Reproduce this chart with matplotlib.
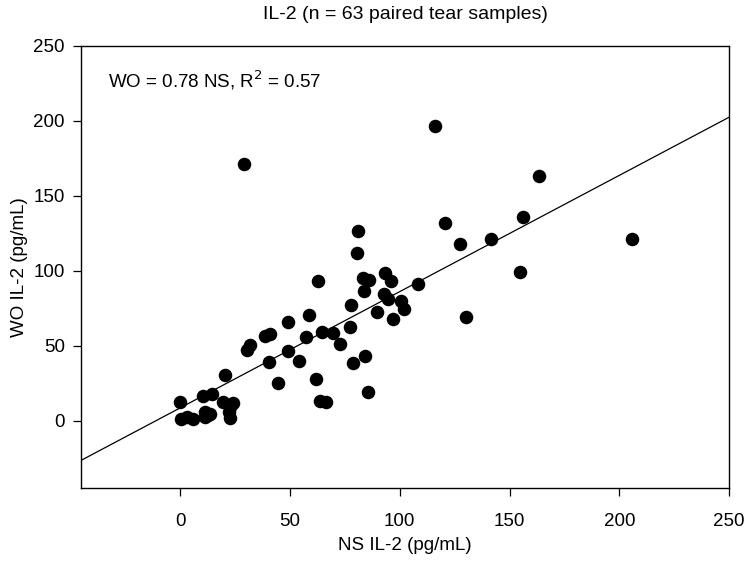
import matplotlib
matplotlib.use('Agg')
import matplotlib.pyplot as plt
import numpy as np

plt.rcParams['font.family'] = ['Liberation Sans', 'DejaVu Sans']

# NS IL-2 vs WO IL-2 (pg/mL)
ns = [0, 0.3, 3, 5.8, 10.6, 14.4, 11.4, 13.6, 11.4, 19.7, 24, 22, 22.7, 12.5,
      20.5, 30.5, 32, 40.6, 44.7, 49.2, 54.2, 61.8, 63.6, 66.4, 72.7, 78.5,
      81, 80.3, 62.9, 83.2, 86, 93.2, 95.8, 83.9, 92.6, 94.7, 100.6, 101.8,
      108.3, 78, 89.8, 96.7, 58.8, 77.3, 64.4, 69.7, 57.3, 84.1, 85.6,
      127.3, 141.7, 130.3, 115.9, 163.6, 120.8, 156, 205.6, 154.9, 29.1,
      38.6, 40.9, 49.2, 22.5]
wo = [12.7, 1.1, 2.7, 1.1, 16.5, 17.8, 6, 4.5, 2.7, 12.3, 11.6, 6, 1.6, 4,
      30.7, 47.1, 50.5, 38.9, 24.9, 46.7, 40, 27.6, 13.1, 12.3, 51.1, 38.7,
      126.5, 111.6, 93.3, 94.9, 94, 98.3, 93.3, 86.2, 84.7, 80.9, 79.6, 74.3,
      91.1, 77.1, 72.7, 67.6, 70.2, 62.7, 59.3, 58.3, 56, 43.1, 19.3,
      117.8, 120.9, 68.9, 196.5, 163.1, 132, 136, 121.1, 98.9, 171,
      56.5, 58, 65.5, 9]

slope = 0.775
intercept = 8.5

fig = plt.figure(figsize=(7.47, 5.63), dpi=100)
ax = fig.add_axes([0.109, 0.133, 0.867, 0.786])

ax.scatter(ns, wo, s=95, color='black', zorder=3, linewidths=0)
xl = np.array([-45, 250])
ax.plot(xl, slope * xl + intercept, color='black', lw=0.9)

ax.set_xlim(-45, 250)
ax.set_ylim(-45, 250)
ax.set_xticks([0, 50, 100, 150, 200, 250])
ax.set_yticks([0, 50, 100, 150, 200, 250])
ax.tick_params(axis='x', direction='out', length=6, width=0.9, labelsize=13.5, pad=12)
ax.tick_params(axis='y', direction='out', length=6, width=0.9, labelsize=13.5, pad=6)
for s in ax.spines.values():
    s.set_linewidth(1.0)

ax.set_xlabel('NS IL-2 (pg/mL)', fontsize=13.5, labelpad=5)
ax.set_ylabel('WO IL-2 (pg/mL)', fontsize=13.5, labelpad=4)
ax.set_title('IL-2 (n = 63 paired tear samples)', fontsize=14, pad=19)
ax.text(-33, 227, r'WO = 0.78 NS, R$^2$ = 0.57', fontsize=13.5, va='center', ha='left')

fig.savefig('out.png', dpi=100)
